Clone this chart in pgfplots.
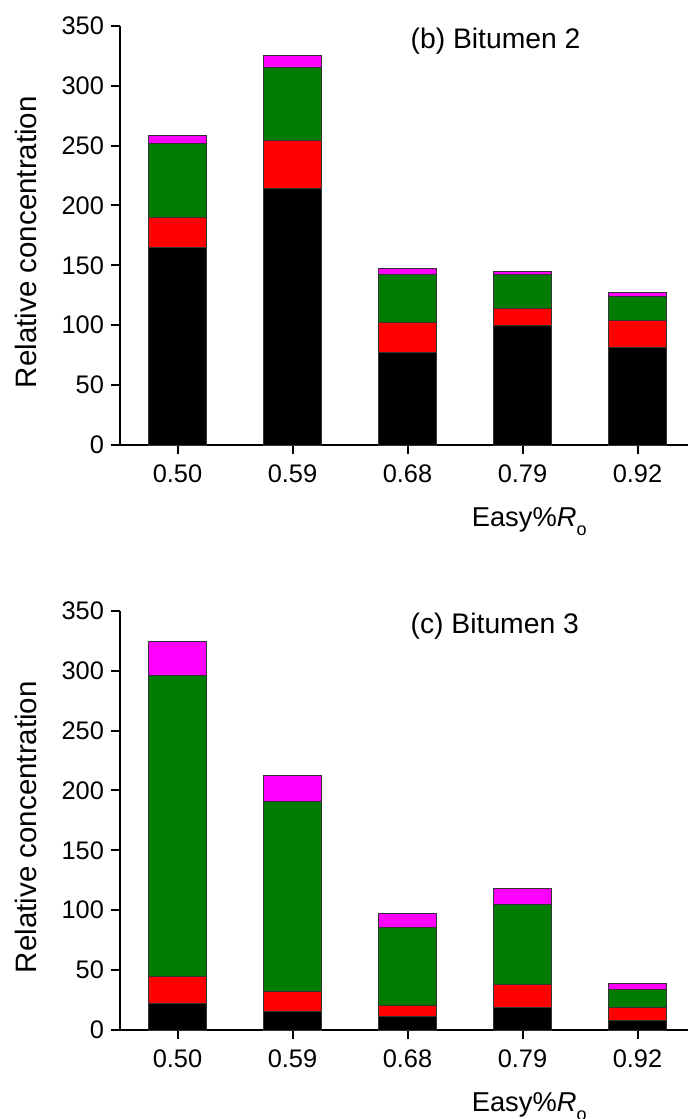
\documentclass[border=0pt]{standalone}
\usepackage{pgfplots}
\pgfplotsset{compat=1.18}
\usepackage{fontspec}
\setmainfont{Liberation Sans}
\definecolor{cgreen}{RGB}{0,125,0}
\definecolor{cmag}{RGB}{255,0,255}
\definecolor{cred}{RGB}{255,0,0}
\pgfplotsset{
  panel/.style={
    width=284pt, height=209.65pt, scale only axis,
    xmin=-0.5, xmax=4.439, ymin=0, ymax=350,
    axis x line*=bottom, axis y line*=left,
    xtick={0,1,2,3,4},
    xticklabels={0.50,0.59,0.68,0.79,0.92},
    ytick={0,50,...,350},
    tick align=outside, major tick length=4.5pt,
    tick style={line width=1pt, black},
    axis line style={line width=1pt, black},
    ybar stacked, bar width=0.5,
    /pgf/number format/assume math mode=true,
    ticklabel style={font=\fontsize{12.7pt}{14pt}\selectfont},
    xticklabel style={yshift=-2pt},
    ylabel={Relative concentration},
    ylabel style={at={(axis description cs:-0.1467,0.484)}, anchor=base, font=\fontsize{14.75pt}{17pt}\selectfont},
    xlabel={Easy\%\textit{R}\raisebox{-4.5pt}{\fontsize{9pt}{10pt}\selectfont o}},
    xlabel style={at={(axis description cs:0.607,-0.194)}, anchor=base west, font=\fontsize{13.65pt}{16pt}\selectfont},
    every axis plot/.append style={draw=black!80, line width=0.5pt},
    clip=false,
  }
}
\begin{document}
\begin{tikzpicture}
\useasboundingbox (0,0) rectangle (344pt,-559.5pt);
\begin{axis}[panel, at={(60pt,-222.5pt)}, anchor=south west]
\addplot[fill=black] coordinates {(0,164.7) (1,214) (2,77.2) (3,99.7) (4,81.1)};
\addplot[fill=cred] coordinates {(0,25) (1,40) (2,25.3) (3,14.2) (4,22.8)};
\addplot[fill=cgreen] coordinates {(0,62.3) (1,60.7) (2,40) (3,28.6) (4,20.3)};
\addplot[fill=cmag] coordinates {(0,6.3) (1,10.3) (2,4.7) (3,2.5) (4,2.8)};
\node[anchor=base west, inner sep=0pt, font=\fontsize{14.15pt}{17pt}\selectfont] at (axis description cs:0.511,0.946) {(b) Bitumen 2};
\end{axis}
\begin{axis}[panel, at={(60pt,-515pt)}, anchor=south west]
\addplot[fill=black] coordinates {(0,21.9) (1,15.8) (2,11.4) (3,18.6) (4,8.1)};
\addplot[fill=cred] coordinates {(0,22.5) (1,16.1) (2,9.2) (3,19.7) (4,10.8)};
\addplot[fill=cgreen] coordinates {(0,251.2) (1,159.2) (2,65) (3,66.4) (4,15.3)};
\addplot[fill=cmag] coordinates {(0,28.6) (1,21.7) (2,11.6) (3,13.1) (4,5.0)};
\node[anchor=base west, inner sep=0pt, font=\fontsize{14.15pt}{17pt}\selectfont] at (axis description cs:0.511,0.946) {(c) Bitumen 3};
\end{axis}
\end{tikzpicture}
\end{document}
